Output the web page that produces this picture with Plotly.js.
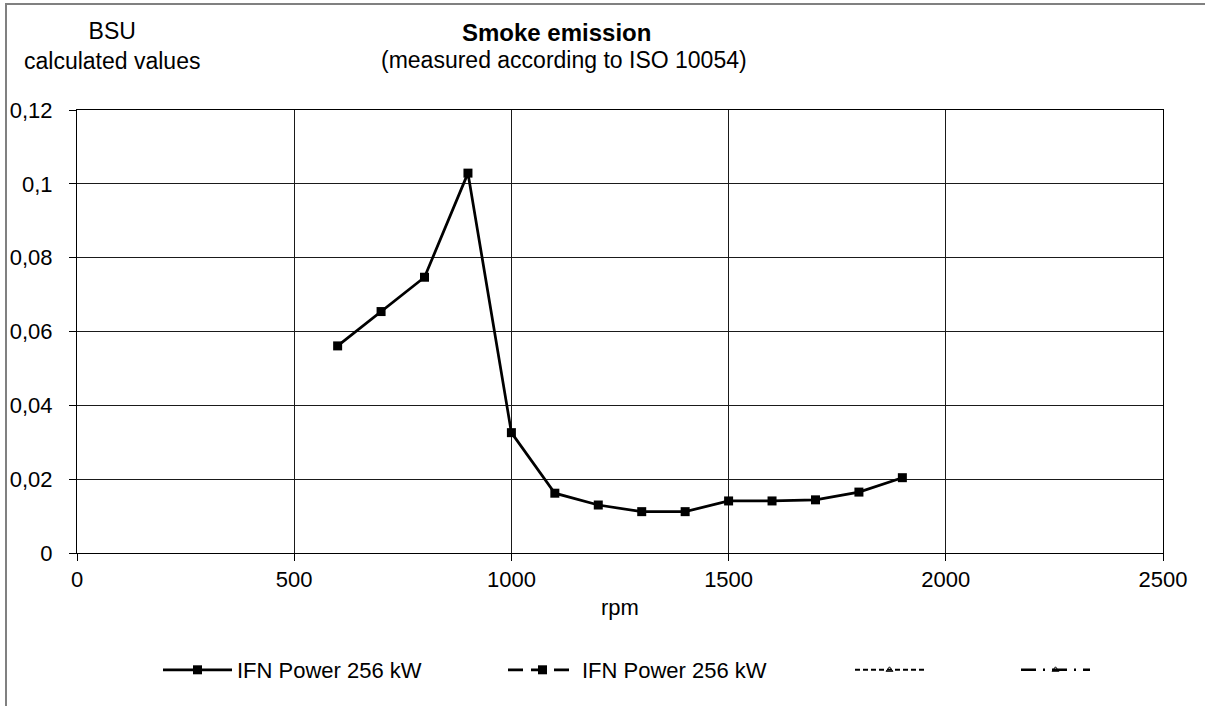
<!DOCTYPE html>
<html>
<head>
<meta charset="utf-8">
<script src="https://cdn.plot.ly/plotly-3.0.1.min.js"></script>
<style>
  html, body { margin: 0; padding: 0; background: #fff; overflow: hidden; width: 1205px; height: 706px; }
  #wrap { position: relative; width: 1205px; height: 706px; overflow: hidden; }
  #chart { position: absolute; left: 0; top: 0; width: 1205px; height: 706px; }
  #frame { position: absolute; left: 5px; top: 3px; width: 1300px; height: 800px;
           border-left: 2px solid #808080; border-top: 2px solid #808080; pointer-events: none; }
</style>
</head>
<body>
<div id="wrap"><div id="chart"></div><div id="frame"></div></div>
<script>
// ---- data ----
const rpm = [600, 700, 800, 900, 1000, 1100, 1200, 1300, 1400, 1500, 1600, 1700, 1800, 1900];
const smokeBSU = [0.0561, 0.0654, 0.0747, 0.1029, 0.0326, 0.0162, 0.0130, 0.0112, 0.0112, 0.0141, 0.0141, 0.0144, 0.0165, 0.0204];
const series1Name = 'IFN Power 256 kW';
const series2Name = 'IFN Power 256 kW';
const series3Name = ' ';
const series4Name = ' ';
const emptyX = [null];
const emptyY = [null];
const xTicks = [0, 500, 1000, 1500, 2000, 2500];
const yTicks = [0, 0.02, 0.04, 0.06, 0.08, 0.1, 0.12];
const titleMain = 'Smoke emission';
const titleSub = '(measured according to ISO 10054)';
const yUnitTitle = 'BSU<br>calculated values';
const xTitle = 'rpm';

// ---- layout helpers (pixel -> paper) ----
const W = 1205, H = 706;
const L = 77, R = 42, T = 110, B = 153;
const pw = W - L - R, ph = H - T - B;
const px = v => (v - L) / pw;
const py = v => (H - B - v) / ph;

const FONT = 'Liberation Sans, Arial, sans-serif';
const traces = [
  { x: rpm, y: smokeBSU, name: series1Name, type: 'scatter', mode: 'lines+markers',
    line: { color: '#000', width: 2.75 }, marker: { symbol: 'square', size: 9, color: '#000' },
    legend: 'legend' },
  { x: emptyX, y: emptyY, name: series2Name, type: 'scatter', mode: 'lines+markers',
    line: { color: '#000', width: 2.75, dash: '15px,8px' }, marker: { symbol: 'square', size: 9, color: '#000' },
    legend: 'legend2' },
  { x: emptyX, y: emptyY, name: series3Name, type: 'scatter', mode: 'lines+markers',
    line: { color: '#000', width: 2, dash: '5px,3px' }, marker: { symbol: 'triangle-up-open', size: 6, color: '#000', line: { width: 1, color: '#000' } },
    legend: 'legend3' },
  { x: emptyX, y: emptyY, name: series4Name, type: 'scatter', mode: 'lines+markers',
    line: { color: '#000', width: 2.5, dash: '15px,7px,2px,7px' }, marker: { symbol: 'triangle-up-open', size: 6, color: '#000', line: { width: 1, color: '#000' } },
    legend: 'legend4' }
];

const legendBase = (xp) => ({
  x: px(xp), y: py(670), xref: 'paper', yref: 'paper', xanchor: 'left', yanchor: 'middle',
  orientation: 'h', bgcolor: 'rgba(0,0,0,0)', borderwidth: 0, itemwidth: 69,
  font: { family: FONT, size: 22, color: '#000' }
});

const gridCol = '#1a1a1a';
const layout = {
  width: W, height: H,
  margin: { l: L, r: R, t: T, b: B, pad: 0 },
  paper_bgcolor: '#fff', plot_bgcolor: '#fff',
  separators: ', ',
  font: { family: FONT, size: 22, color: '#000' },
  showlegend: true,
  xaxis: {
    range: [0, 2500], tickvals: xTicks, showgrid: true, gridcolor: gridCol, gridwidth: 1,
    showline: true, linecolor: '#000', linewidth: 1, mirror: true,
    ticks: 'outside', ticklen: 7, tickcolor: '#000', tickwidth: 1,
    zeroline: false, fixedrange: true,
    tickfont: { family: FONT, size: 22, color: '#000' },
    title: { text: xTitle, font: { family: FONT, size: 22, color: '#000' }, standoff: 8 }
  },
  yaxis: {
    range: [0, 0.12], tickvals: yTicks, showgrid: true, gridcolor: gridCol, gridwidth: 1,
    showline: true, linecolor: '#000', linewidth: 1, mirror: true,
    ticks: 'outside', ticklen: 7, tickcolor: '#000', tickwidth: 1,
    zeroline: false, fixedrange: true,
    ticklabelstandoff: 12,
    tickfont: { family: FONT, size: 22, color: '#000' }
  },
  legend: legendBase(158),
  legend2: legendBase(503),
  legend3: legendBase(850),
  legend4: legendBase(1016),
  annotations: [
    { text: '<b>' + titleMain + '</b>', xref: 'paper', yref: 'paper',
      x: px(556), y: py(33), xanchor: 'center', yanchor: 'middle', showarrow: false, align: 'center',
      font: { family: FONT, size: 24, color: '#000' } },
    { text: titleSub, xref: 'paper', yref: 'paper',
      x: px(564), y: py(60), xanchor: 'center', yanchor: 'middle', showarrow: false, align: 'center',
      font: { family: FONT, size: 23, color: '#000' } },
    { text: yUnitTitle, xref: 'paper', yref: 'paper',
      x: px(112), y: py(46), xanchor: 'center', yanchor: 'middle', showarrow: false, align: 'center',
      font: { family: FONT, size: 23, color: '#000' } }
  ]
};

Plotly.newPlot('chart', traces, layout, { displayModeBar: false, staticPlot: true });
</script>
</body>
</html>
